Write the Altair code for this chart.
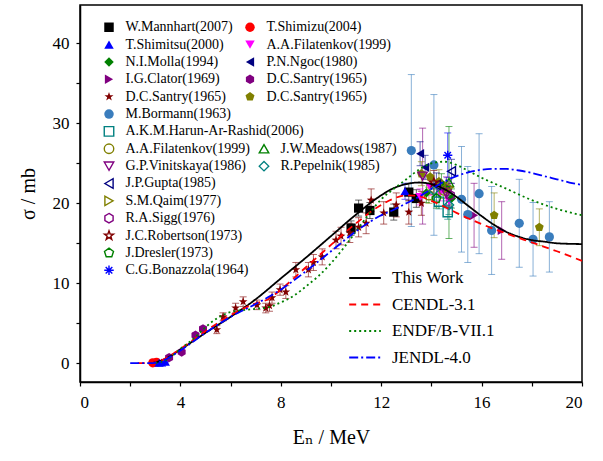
import altair as alt
import pandas as pd

# ---------------- evaluated curves ----------------
THIS_E = [2.8, 3.2, 3.6, 4.0, 5.0, 6.0, 7.0, 8.0, 9.0, 10.0, 11.0, 12.0, 12.5, 13.0, 13.5, 14.0, 14.5, 15.0, 15.5, 16.0, 16.5, 17.0, 17.5, 18.0, 18.5, 19.0, 20.0]
THIS_S = [0.0, 0.3, 0.9, 1.7, 3.8, 5.8, 8.0, 10.6, 13.2, 15.9, 18.6, 21.0, 21.9, 22.4, 22.6, 22.4, 21.8, 20.8, 19.6, 18.4, 17.3, 16.4, 15.8, 15.4, 15.2, 15.0, 14.9]
CENDL_E = [2.3, 2.8, 3.2, 4.0, 5.0, 6.0, 7.0, 7.5, 8.0, 9.0, 10.0, 11.0, 12.0, 12.5, 13.0, 13.5, 14.0, 14.5, 15.0, 16.0, 17.0, 18.0, 19.0, 20.0]
CENDL_S = [0.0, 0.0, 0.3, 1.8, 4.0, 6.0, 7.5, 8.0, 9.2, 12.0, 14.8, 17.5, 19.8, 20.6, 21.0, 20.9, 20.3, 19.6, 18.8, 17.4, 16.2, 15.1, 14.0, 12.8]
ENDF_E = [3.0, 3.5, 4.0, 4.5, 5.0, 5.5, 6.0, 7.0, 7.5, 8.0, 8.5, 9.0, 9.5, 10.0, 10.5, 11.0, 11.5, 12.0, 12.5, 13.0, 13.5, 14.0, 14.5, 15.0, 15.5, 16.0, 17.0, 18.0, 19.0, 20.0]
ENDF_S = [0.0, 0.5, 1.8, 3.0, 4.5, 5.7, 6.4, 6.8, 7.0, 7.6, 8.4, 9.6, 10.9, 12.5, 14.4, 16.5, 18.6, 20.5, 21.8, 23.0, 24.2, 25.0, 25.2, 24.8, 24.0, 23.2, 21.8, 20.4, 19.3, 18.5]
JENDL_E = [2.0, 2.8, 3.2, 4.0, 5.0, 6.0, 7.0, 8.0, 9.0, 10.0, 11.0, 12.0, 12.5, 13.0, 13.5, 14.0, 14.5, 15.0, 15.5, 16.0, 16.5, 17.0, 17.5, 18.0, 18.5, 19.0, 19.5, 20.0]
JENDL_S = [0.0, 0.0, 0.2, 1.6, 3.8, 5.8, 7.4, 9.2, 11.5, 14.0, 16.5, 18.5, 19.2, 20.0, 20.8, 21.8, 22.7, 23.4, 23.9, 24.2, 24.3, 24.3, 24.1, 23.8, 23.4, 23.0, 22.6, 22.3]
MODELS = ["This Work", "CENDL-3.1", "ENDF/B-VII.1", "JENDL-4.0"]

# ---------------- experimental data ----------------
MANNHART_E = [10.8, 11.1, 11.55, 12.5, 13.1, 13.4]
MANNHART_S = [16.9, 19.4, 19.1, 18.9, 21.4, 20.6]
MANNHART_D = [0.9, 1.0, 1.0, 1.0, 1.1, 1.1]
SHIMIZU_E = [2.9, 3.05]
SHIMIZU_S = [0.05, 0.12]
SHIMIZU_D = [0.02, 0.03]
SHIMITSU_E = [3.15, 3.25, 3.4, 12.95]
SHIMITSU_S = [0.06, 0.1, 0.18, 21.5]
SHIMITSU_D = [0.02, 0.03, 0.05, 1.0]
FILATENKOV1_E = [13.55, 13.95, 14.35, 14.7]
FILATENKOV1_S = [20.8, 22.0, 21.3, 20.3]
FILATENKOV1_D = [1.0, 1.0, 1.0, 1.0]
MOLLA_E = [13.8, 14.4, 14.8]
MOLLA_S = [21.3, 22.5, 20.6]
MOLLA_D = [1.2, 1.2, 1.2]
NGOC_E = [13.55, 13.75]
NGOC_S = [26.2, 24.5]
NGOC_D = [1.5, 1.5]
CLATOR_E = [15.7, 16.8]
CLATOR_S = [18.5, 16.6]
CLATOR_D = [4.0, 3.6]
SANTRY1_E = [3.55, 4.05, 4.6, 4.9, 14.6]
SANTRY1_S = [0.7, 1.4, 3.5, 4.3, 21.8]
SANTRY1_D = [0.1, 0.15, 0.3, 0.3, 1.5]
SANTRY2_E = [5.45, 5.7, 6.2, 6.5, 7.05, 7.4, 7.55, 7.65, 7.97, 8.2, 8.6, 9.1, 9.3, 9.65, 10.2, 10.4, 10.75, 11.1, 11.4, 11.6, 12.1, 12.6, 13.1, 13.6]
SANTRY2_S = [4.2, 5.8, 6.9, 7.7, 7.3, 6.9, 7.2, 8.2, 9.2, 8.9, 11.7, 11.7, 12.6, 13.3, 15.4, 15.9, 16.3, 17.0, 17.5, 20.4, 18.8, 19.8, 18.9, 20.0]
SANTRY2_D = [0.5, 0.5, 0.6, 0.6, 0.6, 0.6, 0.7, 0.7, 0.7, 0.8, 0.9, 0.9, 1.0, 1.0, 1.1, 1.1, 1.2, 1.2, 1.3, 1.4, 1.4, 1.5, 1.5, 1.5]
SANTRY3_E = [13.6, 13.95, 14.3, 16.5, 18.3]
SANTRY3_S = [23.7, 23.3, 22.7, 18.5, 17.0]
SANTRY3_D = [1.5, 1.5, 1.5, 2.8, 2.3]
BORMANN_E = [13.2, 14.1, 15.2, 15.45, 15.9, 16.4, 17.5, 18.05, 18.7]
BORMANN_S = [26.6, 24.8, 20.5, 18.6, 21.2, 16.6, 17.5, 15.5, 15.8]
BORMANN_D = [9.5, 8.8, 6.6, 6.0, 7.5, 5.5, 5.5, 4.6, 4.4]
HARUN_E = [14.3, 14.65]
HARUN_S = [20.2, 18.9]
HARUN_D = [0.9, 0.9]
FILATENKOV2_E = [13.9, 14.5]
FILATENKOV2_S = [21.0, 21.6]
FILATENKOV2_D = [1.0, 1.0]
MEADOWS_E = [14.7]
MEADOWS_S = [22.6]
MEADOWS_D = [7.0]
VINITSKAYA_E = [13.65, 14.6]
VINITSKAYA_S = [23.4, 21.2]
VINITSKAYA_D = [6.0, 1.5]
PEPELNIK_E = [14.1, 14.7]
PEPELNIK_S = [21.6, 19.8]
PEPELNIK_D = [1.2, 1.2]
GUPTA_E = [14.2, 14.8]
GUPTA_S = [22.3, 24.0]
GUPTA_D = [1.5, 1.5]
QAIM_E = [14.7]
QAIM_S = [22.0]
QAIM_D = [1.0]
SIGG_E = [14.75]
SIGG_S = [21.0]
SIGG_D = [1.5]
ROBERTSON_E = [14.1]
ROBERTSON_S = [22.6]
ROBERTSON_D = [1.5]
DRESLER_E = [14.2]
DRESLER_S = [20.6]
DRESLER_D = [1.2]
BONAZZOLA_E = [14.65]
BONAZZOLA_S = [26.0]
BONAZZOLA_D = [2.8]

# ---------------- styles ----------------
HEX = "M0,-1L0.866,-0.5L0.866,0.5L0,1L-0.866,0.5L-0.866,-0.5Z"
STAR = "M0,-1L0.235,-0.324L0.951,-0.309L0.38,0.124L0.588,0.809L0,0.4L-0.588,0.809L-0.38,0.124L-0.951,-0.309L-0.235,-0.324Z"
PENT = "M0,-1L0.951,-0.309L0.588,0.809L-0.588,0.809L-0.951,-0.309Z"
ASTER = "M0,-1L0,1M-1,0L1,0M-0.7,-0.7L0.7,0.7M-0.7,0.7L0.7,-0.7"

# (label, E, sigma, error, shape, colour, filled, legend column, legend row)
SERIES = [
    ("W.Mannhart(2007)", MANNHART_E, MANNHART_S, MANNHART_D, "square", "#000000", True, 0, 0),
    ("T.Shimizu(2004)", SHIMIZU_E, SHIMIZU_S, SHIMIZU_D, "circle", "#ff0000", True, 1, 0),
    ("T.Shimitsu(2000)", SHIMITSU_E, SHIMITSU_S, SHIMITSU_D, "triangle-up", "#0000ff", True, 0, 1),
    ("A.A.Filatenkov(1999)", FILATENKOV1_E, FILATENKOV1_S, FILATENKOV1_D, "triangle-down", "#ff00ff", True, 1, 1),
    ("N.I.Molla(1994)", MOLLA_E, MOLLA_S, MOLLA_D, "diamond", "#008000", True, 0, 2),
    ("P.N.Ngoc(1980)", NGOC_E, NGOC_S, NGOC_D, "triangle-left", "#000080", True, 1, 2),
    ("I.G.Clator(1969)", CLATOR_E, CLATOR_S, CLATOR_D, "triangle-right", "#800080", True, 0, 3),
    ("D.C.Santry(1965)#1", SANTRY1_E, SANTRY1_S, SANTRY1_D, HEX, "#800080", True, 1, 3),
    ("D.C.Santry(1965)#2", SANTRY2_E, SANTRY2_S, SANTRY2_D, STAR, "#800000", True, 0, 4),
    ("D.C.Santry(1965)#3", SANTRY3_E, SANTRY3_S, SANTRY3_D, PENT, "#808000", True, 1, 4),
    ("M.Bormann(1963)", BORMANN_E, BORMANN_S, BORMANN_D, "circle", "#3a7dbd", True, 0, 5),
    ("A.K.M.Harun-Ar-Rashid(2006)", HARUN_E, HARUN_S, HARUN_D, "square", "#008080", False, 0, 6),
    ("A.A.Filatenkov(1999)#2", FILATENKOV2_E, FILATENKOV2_S, FILATENKOV2_D, "circle", "#808000", False, 0, 7),
    ("J.W.Meadows(1987)", MEADOWS_E, MEADOWS_S, MEADOWS_D, "triangle-up", "#008000", False, 2, 7),
    ("G.P.Vinitskaya(1986)", VINITSKAYA_E, VINITSKAYA_S, VINITSKAYA_D, "triangle-down", "#800080", False, 0, 8),
    ("R.Pepelnik(1985)", PEPELNIK_E, PEPELNIK_S, PEPELNIK_D, "diamond", "#008080", False, 2, 8),
    ("J.P.Gupta(1985)", GUPTA_E, GUPTA_S, GUPTA_D, "triangle-left", "#000080", False, 0, 9),
    ("S.M.Qaim(1977)", QAIM_E, QAIM_S, QAIM_D, "triangle-right", "#808000", False, 0, 10),
    ("R.A.Sigg(1976)", SIGG_E, SIGG_S, SIGG_D, HEX, "#800080", False, 0, 11),
    ("J.C.Robertson(1973)", ROBERTSON_E, ROBERTSON_S, ROBERTSON_D, STAR, "#800000", False, 0, 12),
    ("J.Dresler(1973)", DRESLER_E, DRESLER_S, DRESLER_D, PENT, "#008000", False, 0, 13),
    ("C.G.Bonazzola(1964)", BONAZZOLA_E, BONAZZOLA_S, BONAZZOLA_D, ASTER, "#0000ff", False, 0, 14),
]
KEYS = [s[0] for s in SERIES]
COLOR = {s[0]: s[5] for s in SERIES}
COL_X = [22, 163, 177]   # legend column offsets (px from plot's left edge)
ROW_Y0, ROW_DY = 15.25, 17.36

rows = []
for key, es, ss, ds, *_ in SERIES:
    for e, s, d in zip(es, ss, ds):
        rows.append({"key": key, "E": e, "S": s, "lo": s - d, "hi": s + d})
pts = pd.DataFrame(rows)

crow = []
for m, es, ss in [("This Work", THIS_E, THIS_S), ("CENDL-3.1", CENDL_E, CENDL_S),
                  ("ENDF/B-VII.1", ENDF_E, ENDF_S), ("JENDL-4.0", JENDL_E, JENDL_S)]:
    for e, s in zip(es, ss):
        crow.append({"model": m, "E": e, "S": s})
curves = pd.DataFrame(crow)

FONT = "Times New Roman, Liberation Serif, DejaVu Serif, serif"
xscale = alt.Scale(domain=[0, 20], nice=False, zero=False)
yscale = alt.Scale(domain=[-2.35, 44.8], nice=False, zero=False)
xaxis = alt.Axis(title="Eₙ / MeV", values=list(range(0, 21, 2)),
                 labelExpr="datum.value % 4 == 0 ? datum.label : ''",
                 grid=False, tickSize=4, labelPadding=8, titlePadding=17)
yaxis = alt.Axis(title="σ / mb", values=list(range(0, 45, 5)),
                 labelExpr="datum.value % 10 == 0 ? datum.label : ''",
                 grid=False, tickSize=4, labelPadding=7, titlePadding=14)

X = alt.X("E:Q", scale=xscale, axis=xaxis)
Y = alt.Y("S:Q", scale=yscale, axis=yaxis)

cscale = alt.Scale(domain=KEYS, range=[COLOR[k] for k in KEYS])
err_rule = alt.Chart(pts).mark_rule(strokeWidth=1, opacity=0.6).encode(
    x=X, y=alt.Y("lo:Q", scale=yscale, axis=yaxis), y2="hi:Q",
    color=alt.Color("key:N", scale=cscale, legend=None))
err_lo = alt.Chart(pts).mark_tick(orient="horizontal", size=7, thickness=1, opacity=0.6).encode(
    x=X, y=alt.Y("lo:Q", scale=yscale, axis=yaxis),
    color=alt.Color("key:N", scale=cscale, legend=None))
err_hi = alt.Chart(pts).mark_tick(orient="horizontal", size=7, thickness=1, opacity=0.6).encode(
    x=X, y=alt.Y("hi:Q", scale=yscale, axis=yaxis),
    color=alt.Color("key:N", scale=cscale, legend=None))


def point_layer(key, shape, color, filled, col, row):
    leg = alt.Legend(orient="none", legendX=COL_X[col], legendY=ROW_Y0 + row * ROW_DY,
                     title=None, padding=0, labelFont=FONT, labelFontSize=14, labelColor="black",
                     symbolSize=90, symbolStrokeWidth=1.4, labelOffset=9.5,
                     labelExpr="split(datum.label, '#')[0]", labelLimit=300)
    sub = pts[pts["key"] == key]
    return alt.Chart(sub).mark_point(filled=filled, size=85, strokeWidth=1.4, opacity=1).encode(
        x=X, y=Y,
        color=alt.Color("key:N", scale=alt.Scale(domain=[key], range=[color]), legend=leg),
        shape=alt.Shape("key:N", scale=alt.Scale(domain=[key], range=[shape]), legend=leg),
    )


point_layers = [point_layer(s[0], s[4], s[5], s[6], s[7], s[8]) for s in SERIES]

lleg = alt.Legend(orient="none", legendX=268, legendY=256, title=None, padding=0,
                  labelFont=FONT, labelFontSize=17, labelColor="black", symbolType="stroke",
                  symbolSize=1000, symbolStrokeWidth=2, labelOffset=10, rowPadding=1.5)
lines = alt.Chart(curves).mark_line(strokeWidth=1.8, interpolate="monotone").encode(
    x=X, y=Y,
    color=alt.Color("model:N", scale=alt.Scale(domain=MODELS, range=["#000000", "#ff0000", "#008000", "#0000ff"]), legend=lleg),
    strokeDash=alt.StrokeDash("model:N", scale=alt.Scale(domain=MODELS, range=[[1, 0], [7, 5], [2, 3], [9, 3, 2, 3]]), legend=lleg),
)

chart = alt.layer(err_rule, err_lo, err_hi, *point_layers, lines).resolve_scale(
    color="independent", shape="independent", strokeDash="independent"
).properties(
    width=502, height=377,
    autosize=alt.AutoSizeParams(type="none"),
    padding={"left": 80, "top": 5, "right": 21, "bottom": 79},
).configure_view(stroke="black", strokeWidth=1.5).configure_axis(
    labelFont=FONT, titleFont=FONT, labelFontSize=17, titleFontSize=20,
    labelColor="black", titleColor="black", titleFontWeight="normal",
    domainColor="black", tickColor="black", domainWidth=1.5, tickWidth=1.2,
).configure_legend(labelFont=FONT)

chart.save("out.html", embed_options={"renderer": "svg", "actions": False})
